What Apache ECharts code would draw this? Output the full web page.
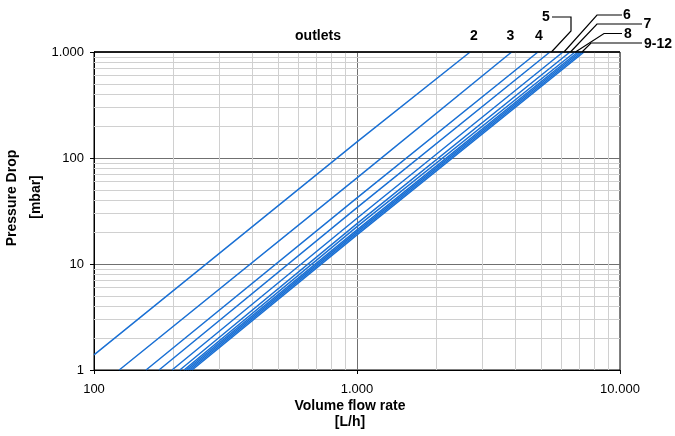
<!DOCTYPE html>
<html>
<head>
<meta charset="utf-8">
<script src="https://cdn.jsdelivr.net/npm/echarts@6/dist/echarts.min.js"></script>
<style>
html,body{margin:0;padding:0;background:#fff;}
#c{width:675px;height:436px;}
</style>
</head>
<body>
<div id="c"></div>
<script>
// Outlet series names
const outletNames = ['2','3','4','5','6','7','8','9','10','11','12'];
// Flow rate [L/h] at which each curve is read (left/bottom entry, Q=1000, top exit at 1000 mbar)
const flowLow  = [100, 124.7, 157.7, 176.7, 198, 212, 220, 224, 228, 232, 236];
const presLow  = [1.39, 1, 1, 1, 1, 1, 1, 1, 1, 1, 1];
const flowMid  = [1000, 1000, 1000, 1000, 1000, 1000, 1000, 1000, 1000, 1000, 1000];
const presMid  = [142, 65, 42, 34, 27, 24, 22.5, 21, 20.2, 19.5, 18.8];
const flowTop  = [2692, 3873, 4875, 5414, 6070, 6453, 6742, 6918, 7047, 7178, 7300];
const presTop  = [1000, 1000, 1000, 1000, 1000, 1000, 1000, 1000, 1000, 1000, 1000];
// Minor grid values
const minorX = [200,300,400,500,600,700,800,900,2000,3000,4000,5000,6000,7000,8000,9000];
const minorY = [2,3,4,5,6,7,8,9,20,30,40,50,60,70,80,90,200,300,400,500,600,700,800,900];
// Axis ranges
const xRange = [100, 10000];
const yRange = [1, 1000];

const fmt = v => String(Math.round(v)).replace(/\B(?=(\d{3})+(?!\d))/g, '.');
const blue = '#1a70d4';
const font = '"Liberation Sans", Arial, sans-serif';

const chart = echarts.init(document.getElementById('c'));

const series = [{
  type: 'line', data: [], silent: true, z: 1,
  markLine: {
    silent: true, symbol: 'none', animation: false, z: 1,
    label: {show: false},
    lineStyle: {color: '#d0d0d0', width: 1, type: 'solid'},
    emphasis: {disabled: true},
    data: minorX.map(v => ({xAxis: v})).concat(minorY.map(v => ({yAxis: v})))
  }
}];
outletNames.forEach((n, i) => {
  series.push({
    name: n, type: 'line', z: 6, symbol: 'none', smooth: false, clip: true,
    lineStyle: {color: blue, width: 1.5},
    itemStyle: {color: blue},
    data: [[flowLow[i], presLow[i]], [flowMid[i], presMid[i]], [flowTop[i], presTop[i]]]
  });
});

chart.setOption({
  animation: false,
  grid: {left: 94, top: 52, right: 55, bottom: 66, show: true, borderColor: '#000', borderWidth: 1, backgroundColor: 'transparent'},
  xAxis: {
    type: 'log', logBase: 10, min: xRange[0], max: xRange[1],
    axisLine: {show: true, lineStyle: {color: '#000', width: 1}},
    axisTick: {show: true, length: 4, lineStyle: {color: '#000'}},
    axisLabel: {formatter: fmt, color: '#000', fontSize: 13, fontFamily: font, margin: 13},
    splitLine: {show: true, lineStyle: {color: '#707070', width: 1}},
    minorTick: {show: false}, minorSplitLine: {show: false}
  },
  yAxis: {
    type: 'log', logBase: 10, min: yRange[0], max: yRange[1],
    axisLine: {show: true, lineStyle: {color: '#000', width: 1}},
    axisTick: {show: true, length: 4, lineStyle: {color: '#000'}},
    axisLabel: {formatter: fmt, color: '#000', fontSize: 13, fontFamily: font, margin: 10},
    splitLine: {show: true, lineStyle: {color: '#707070', width: 1}},
    minorTick: {show: false}, minorSplitLine: {show: false}
  },
  series: series
});

const P = (q, p) => chart.convertToPixel({xAxisIndex: 0, yAxisIndex: 0}, [q, p]);
const bold = {fontFamily: font, fontWeight: 'bold', fontSize: 14, fill: '#000'};
const txt = (text, x, y, extra) => ({type: 'text', x: x, y: y, z: 10,
  style: Object.assign({text: text, align: 'center', verticalAlign: 'middle'}, bold, extra || {})});
const line = (pts) => ({type: 'polyline', z: 10, shape: {points: pts}, style: {stroke: '#000', lineWidth: 1.2, fill: null}});

const a5 = P(flowTop[3], 1000), a6 = P(flowTop[4], 1000), a7 = P(flowTop[5], 1000),
      a8 = P(flowTop[6], 1000), a9 = P(flowTop[8], 1000);

chart.setOption({
  graphic: [
    {type: 'line', z: 9, shape: {x1: 94, y1: 52, x2: 620, y2: 52}, style: {stroke: '#000', lineWidth: 1.6}},
    txt('Volume flow rate', 350, 406),
    txt('[L/h]', 350, 422),
    {type: 'text', x: 12, y: 198, rotation: Math.PI / 2, z: 10,
      style: Object.assign({text: 'Pressure Drop', align: 'center', verticalAlign: 'middle'}, bold)},
    {type: 'text', x: 36, y: 197, rotation: Math.PI / 2, z: 10,
      style: Object.assign({text: '[mbar]', align: 'center', verticalAlign: 'middle'}, bold)},
    txt('outlets', 318, 36),
    txt('2', 474, 36),
    txt('3', 510.5, 36),
    txt('4', 539, 36),
    txt('5', 546, 17),
    txt('6', 627, 15),
    txt('7', 647.5, 24.5),
    txt('8', 628, 34.5),
    txt('9-12', 658, 44),
    line([[552, 17], [571, 17], [571, 31], [a5[0] + 1.5, a5[1]]]),
    line([[622, 15], [597, 15], [a6[0] + 1, a6[1]]]),
    line([[642, 24], [597, 24], [a7[0] + 0.5, a7[1]]]),
    line([[622, 33.5], [604, 33.5], [a8[0] + 0.5, a8[1]]]),
    line([[642, 43], [591, 43], [a9[0] + 2, a9[1]]])
  ]
});
</script>
</body>
</html>
